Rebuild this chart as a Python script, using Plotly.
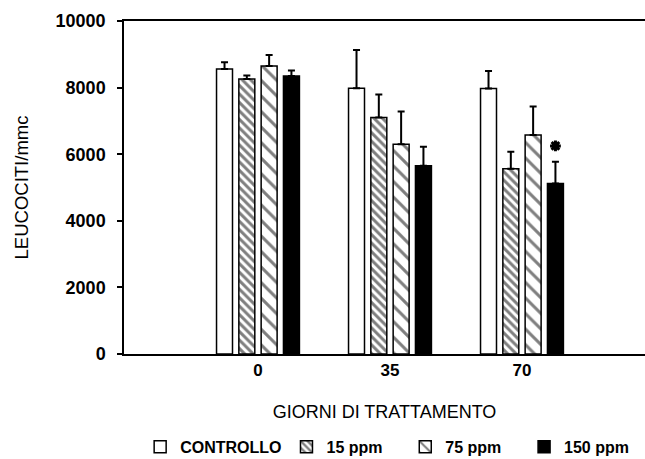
import plotly.graph_objects as go

# ---- data ----
days = ["0", "35", "70"]
series_names = ["CONTROLLO", "15 ppm", "75 ppm", "150 ppm"]
controllo = [8560, 7980, 7970]
controllo_err = [200, 1150, 530]
ppm15 = [8260, 7100, 5560]
ppm15_err = [100, 690, 510]
ppm75 = [8650, 6300, 6580]
ppm75_err = [330, 980, 850]
ppm150 = [8350, 5650, 5120]
ppm150_err = [160, 570, 650]
# significance marker (*) : group index, series index, y value
sig_group = [2]
sig_series = [3]
sig_y = [6250]

yticks = [0, 2000, 4000, 6000, 8000, 10000]

BARGAP = 0.324
BARGROUPGAP = 0.284
FONT = "Liberation Sans, Arial, Helvetica, sans-serif"
NBSP = "\u00a0"
legend_pad = [0, 4, 4, 0]  # extra spacing after legend labels

values = [controllo, ppm15, ppm75, ppm150]
errors = [controllo_err, ppm15_err, ppm75_err, ppm150_err]
patterns = [
    dict(shape=""),
    dict(shape="\\", size=6, solidity=0.5, fgcolor="black", bgcolor="white"),
    dict(shape="\\", size=11, solidity=0.27, fgcolor="black", bgcolor="white"),
    dict(shape=""),
]
colors = ["white", "white", "white", "black"]

xpos = list(range(len(days)))

fig = go.Figure()
for name, pad, v, e, p, c in zip(series_names, legend_pad, values, errors, patterns, colors):
    fig.add_trace(go.Bar(
        name=name + NBSP * pad, x=xpos, y=v,
        marker=dict(color=c, pattern=p, line=dict(color="black", width=1.5)),
        error_y=dict(type="data", array=e, arrayminus=[0] * len(e), symmetric=False,
                     color="black", thickness=2, width=3.5),
    ))

# asterisk positions derived from grouped-bar geometry
nser = len(series_names)
slot = (1 - BARGAP) / nser
sig_x = [xpos[g] + (s - (nser - 1) / 2) * slot for g, s in zip(sig_group, sig_series)]
fig.add_trace(go.Scatter(
    x=sig_x, y=sig_y, mode="markers", showlegend=False, hoverinfo="skip",
    marker=dict(symbol="asterisk-open", size=9, color="black",
                line=dict(color="black", width=3)),
))

fig.update_layout(
    width=645, height=459,
    margin=dict(l=124, r=0, t=21, b=105, autoexpand=False),
    paper_bgcolor="white", plot_bgcolor="white",
    barmode="group", bargap=BARGAP, bargroupgap=BARGROUPGAP,
    font=dict(family=FONT, color="black"),
    showlegend=True,
    legend=dict(orientation="h", x=0.031, xanchor="left", y=-0.279, yanchor="middle",
                font=dict(size=16, family=FONT, weight="bold"),
                itemwidth=30, traceorder="normal"),
    xaxis=dict(
        range=[-1.015, 2.932], tickmode="array", tickvals=xpos, ticktext=days,
        showline=True, linecolor="black", linewidth=1.5, mirror=True,
        ticks="", showgrid=False, zeroline=False, automargin=False,
        tickfont=dict(size=17, family=FONT, weight="bold"),
        title=dict(text="GIORNI DI TRATTAMENTO", font=dict(size=18, family=FONT), standoff=26),
    ),
    yaxis=dict(
        range=[0, 10000], tickmode="array", tickvals=yticks,
        ticktext=[str(t) for t in yticks],
        showline=True, linecolor="black", linewidth=1.5,
        ticks="outside", ticklen=5, tickwidth=1.5, tickcolor="black",
        ticklabelstandoff=8,
        showgrid=False, zeroline=False, automargin=False,
        tickfont=dict(size=18, family=FONT, weight="bold"),
        title=dict(text="LEUCOCITI/mmc", font=dict(size=18.5, family=FONT), standoff=22),
    ),
)

# remove the default page margin so the 645x459 figure fills the window exactly
fig.write_html(
    "out.html",
    config={"displayModeBar": False},
    post_script="document.body.style.margin='0';document.body.style.overflow='hidden';",
)
